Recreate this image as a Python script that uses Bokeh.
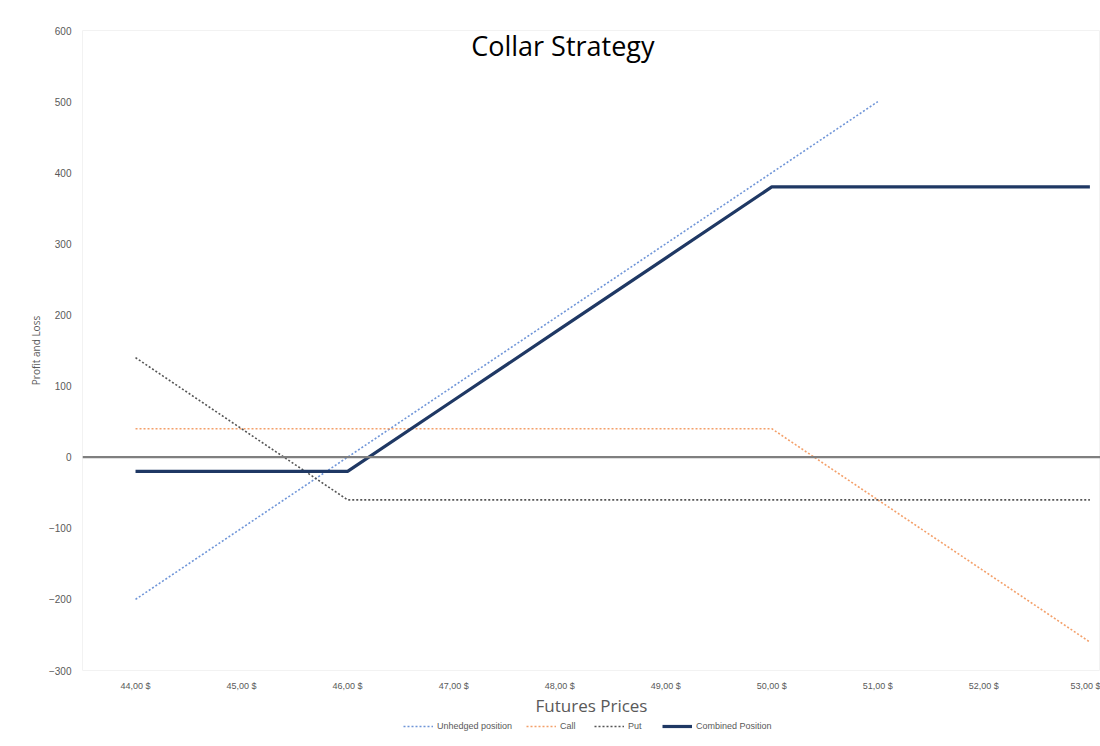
from bokeh.plotting import figure
from bokeh.models import Span, Label, Legend, LegendItem, FixedTicker
from bokeh.layouts import column
from bokeh.embed import file_html
from bokeh.resources import INLINE

# ---- data ----
prices = [44, 45, 46, 47, 48, 49, 50, 51, 52, 53]
price_labels = ["44,00 $", "45,00 $", "46,00 $", "47,00 $", "48,00 $",
                "49,00 $", "50,00 $", "51,00 $", "52,00 $", "53,00 $"]
unhedged_x = [44, 45, 46, 47, 48, 49, 50, 51]
unhedged = [-200, -100, 0, 100, 200, 300, 400, 500]
call = [40, 40, 40, 40, 40, 40, 40, -60, -160, -260]
put = [140, 40, -60, -60, -60, -60, -60, -60, -60, -60]
combined = [-20, -20, -20, 80, 180, 280, 380, 380, 380, 380]
y_ticks = [-300, -200, -100, 0, 100, 200, 300, 400, 500, 600]
series_names = ["Unhedged position", "Call", "Put", "Combined Position"]

label_color = "#595959"
styles = [
    dict(line_color="#6f95d8", line_width=1.6, line_dash="2 2"),
    dict(line_color="#f4a06a", line_width=1.6, line_dash="2 2"),
    dict(line_color="#555555", line_width=1.6, line_dash="2 2"),
    dict(line_color="#1f3864", line_width=3.2),
]
series_xy = [(unhedged_x, unhedged), (prices, call), (prices, put), (prices, combined)]

p = figure(width=1100, height=719, output_backend="svg", toolbar_location=None,
           x_range=(43.5, 53.1), y_range=(-300, 600),
           min_border_left=82, min_border_right=0, min_border_top=30,
           min_border_bottom=48)
p.background_fill_color = "white"
p.border_fill_color = "white"
p.outline_line_color = "#f2f2f2"
p.xgrid.visible = False
p.ygrid.visible = False

# axes
p.xaxis.ticker = FixedTicker(ticks=prices)
p.xaxis.major_label_overrides = {k: v for k, v in zip(prices, price_labels)}
p.yaxis.ticker = FixedTicker(ticks=y_ticks)
for ax in (p.xaxis[0], p.yaxis[0]):
    ax.axis_line_color = None
    ax.major_tick_line_color = None
    ax.minor_tick_line_color = None
    ax.major_tick_out = 0
    ax.major_tick_in = 0
    ax.major_label_text_color = label_color
    ax.major_label_text_font = "Liberation Sans"
    ax.axis_label_text_color = label_color
    ax.axis_label_text_font_style = "normal"
    ax.axis_label_text_font = "Open Sans"
p.xaxis.major_label_text_font_size = "9px"
p.yaxis.major_label_text_font_size = "10px"
p.xaxis.major_label_standoff = 10
p.yaxis.major_label_standoff = 11
p.xaxis.axis_label = "Futures Prices"
p.xaxis.axis_label_text_font_size = "17px"
p.xaxis.axis_label_standoff = 0
p.yaxis.axis_label = "Profit and Loss"
p.yaxis.axis_label_text_font_size = "10px"
p.yaxis.axis_label_standoff = 3

# zero line
p.add_layout(Span(location=0, dimension="width", line_color="#7f7f7f", line_width=2.2))

for (xs, ys), st in zip(series_xy, styles):
    p.line(xs, ys, **st)

# title
p.add_layout(Label(x=48.03, y=579, text="Collar Strategy", text_font="Open Sans",
                   text_font_size="27px", text_color="black", text_align="center",
                   text_baseline="middle"))

# legend strip below the chart (series drawn out of its visible range, keys only)
lg = figure(width=1100, height=27, output_backend="svg", toolbar_location=None,
            x_axis_type=None, y_axis_type=None, x_range=(0, 1), y_range=(0, 1),
            min_border=0)
lg.outline_line_color = None
lg.xgrid.visible = False
lg.ygrid.visible = False
keys = [lg.line(xs, ys, **st) for (xs, ys), st in zip(series_xy, styles)]
legend = Legend(items=[LegendItem(label=n, renderers=[r]) for n, r in zip(series_names, keys)],
                orientation="horizontal", location=(321, 15))
legend.label_text_font = "Liberation Sans"
legend.label_text_font_size = "9px"
legend.label_text_color = label_color
legend.border_line_color = None
legend.background_fill_alpha = 0
legend.glyph_width = 30
legend.glyph_height = 10
legend.spacing = 14
legend.label_standoff = 4
legend.padding = 0
legend.margin = 0
legend.label_height = 10
lg.add_layout(legend, "center")

layout = column(p, lg, spacing=0)
open("out.html", "w").write(file_html(layout, INLINE))
